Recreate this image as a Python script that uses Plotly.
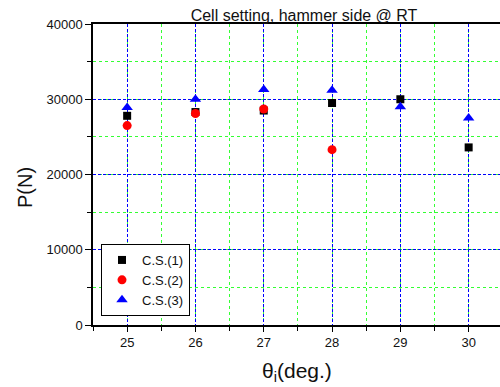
import plotly.graph_objects as go

theta = [25, 26, 27, 28, 29, 30]
cs1 = [27800, 28300, 28500, 29500, 30000, 23600]
theta2 = [25, 26, 27, 28]
cs2 = [26500, 28100, 28700, 23300]
cs3 = [28900, 30000, 31300, 31200, 29000, 27500]
y_ticks = [0, 10000, 20000, 30000, 40000]
y_labels = ["0", "10000", "20000", "30000", "40000"]

FONT = "Liberation Sans, Arial, sans-serif"

fig = go.Figure()
fig.add_trace(go.Scatter(x=theta, y=cs1, mode="markers", name="C.S.(1)",
                         marker=dict(symbol="square", size=8, color="black")))
fig.add_trace(go.Scatter(x=theta2, y=cs2, mode="markers", name="C.S.(2)",
                         marker=dict(symbol="circle", size=9, color="red")))
fig.add_trace(go.Scatter(x=theta, y=cs3, mode="markers", name="C.S.(3)",
                         marker=dict(symbol="triangle-up", size=10, color="blue")))

L, R, T, B = 93, 0, 24, 62
W, H = 500, 387
pw = W - L - R
ph = H - T - B
px_per_unit = 68.3
xmax = 24.5 + pw / px_per_unit

fig.update_layout(
    width=W, height=H,
    margin=dict(l=L, r=R, t=T, b=B, autoexpand=False),
    paper_bgcolor="white", plot_bgcolor="white",
    font=dict(family=FONT, size=13, color="#111"),
    title=dict(text="Cell setting, hammer side @ RT", xref="container", x=304 / W,
               xanchor="center", yref="container", y=1 - 15 / H, yanchor="middle",
               font=dict(family=FONT, size=16, color="#111")),
    xaxis=dict(range=[24.5, xmax], tickmode="array", tickvals=theta,
               ticks="outside", ticklen=5, tickcolor="black", tickwidth=1,
               showline=True, linecolor="black", linewidth=1.5, mirror=True,
               showgrid=True, gridcolor="blue", griddash="3px,2px", gridwidth=1,
               zeroline=False, automargin=False,
               tickfont=dict(family=FONT, size=13, color="#111"),
               minor=dict(dtick=0.5, tick0=24.5, ticks="outside", ticklen=4, tickcolor="black",
                          showgrid=True, gridcolor="#33ff33", griddash="dot", gridwidth=1)),
    yaxis=dict(range=[0, 40000], tickmode="array", tickvals=y_ticks, ticktext=y_labels,
               ticks="outside", ticklen=6, tickcolor="black", tickwidth=1,
               showline=True, linecolor="black", linewidth=1.5,
               showgrid=True, gridcolor="blue", griddash="3px,2px", gridwidth=1,
               zeroline=False, automargin=False,
               tickfont=dict(family=FONT, size=13, color="#111"),
               minor=dict(dtick=5000, tick0=0, ticks="outside", ticklen=4, tickcolor="black",
                          showgrid=True, gridcolor="#33ff33", griddash="dot", gridwidth=1)),
    legend=dict(x=8 / pw, y=9 / ph, xanchor="left", yanchor="bottom",
                bgcolor="white", bordercolor="black", borderwidth=1,
                font=dict(family=FONT, size=13, color="#111"),
                tracegroupgap=0),
    showlegend=True,
)

fig.add_annotation(text="P(N)", xref="paper", yref="paper",
                   x=(25 - L) / pw, y=(H - B - 188) / ph, textangle=-90,
                   showarrow=False, xanchor="center", yanchor="middle",
                   font=dict(family=FONT, size=20, color="#111"))
fig.add_annotation(text="θ<sub>i</sub>(deg.)", xref="paper", yref="paper",
                   x=(297 - L) / pw, y=(H - B - 372) / ph,
                   showarrow=False, xanchor="center", yanchor="middle",
                   font=dict(family=FONT, size=21, color="#111"))

fig.write_html("out.html")
